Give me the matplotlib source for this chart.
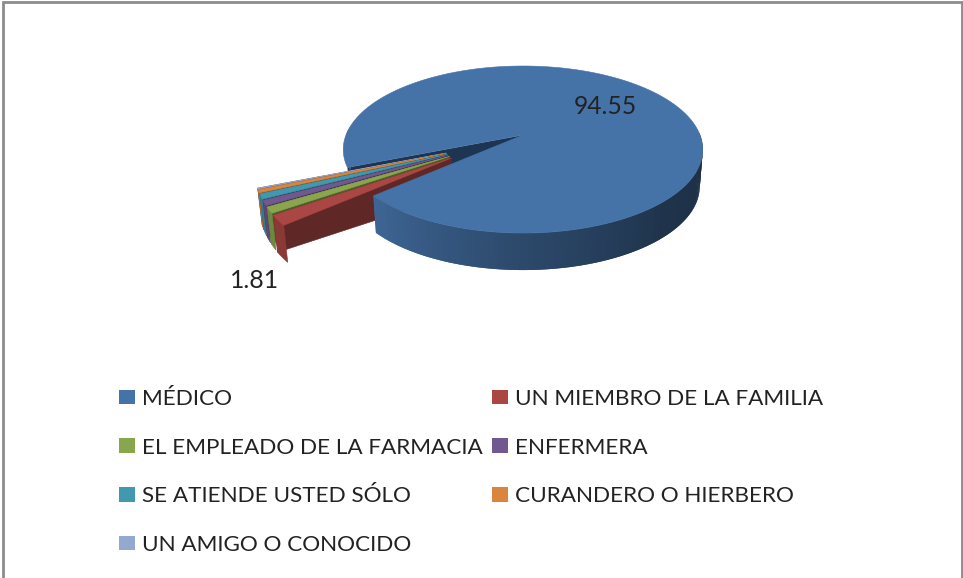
import numpy as np
import matplotlib
matplotlib.use("Agg")
from matplotlib import pyplot as plt
from matplotlib.colors import to_rgb
from matplotlib.patches import Patch

# data (only two labels are printed, the rest are estimates)
categories = ["MÉDICO", "UN MIEMBRO DE LA FAMILIA", "EL EMPLEADO DE LA FARMACIA", "ENFERMERA",
              "SE ATIENDE USTED SÓLO", "CURANDERO O HIERBERO", "UN AMIGO O CONOCIDO"]
values = [94.55, 1.81, 1.09, 0.91, 0.91, 0.55, 0.18]
labels = ["94.55", "1.81", "", "", "", "", ""]
colors = ["#4572A7", "#AA4643", "#89A54E", "#71588F", "#4198AF", "#DB843D", "#93A9CF"]

W, H = 963, 578
CX, CY = 523, 135  # projected centre of the pie
RX, RY = 177, 81
K = 0.174  # perspective strength
DEPTH = 37
BOTTOM_SHRINK = 0.017  # lower face sits a little further away
EXPLODE = 0.47
START = 202  # math degrees, slices run clockwise from here

plt.rcParams["font.family"] = ["Lato", "DejaVu Sans"]


def project(x, y, z=0):
    w = 1 + K * y
    return CX + RX * x / w * (1 - z * BOTTOM_SHRINK), CY - RY * y / w + z * DEPTH


def rim(a0, a1, ox=0.0, oy=0.0, z=0, n=60):
    t = np.radians(np.linspace(a0, a1, n))
    return project(ox + np.cos(t), oy + np.sin(t), z)


def shade(color, f):
    return tuple(c * f for c in to_rgb(color))


def poly(ax, xs, ys, color, zorder=1):
    ax.fill(xs, ys, facecolor=color, edgecolor=color, linewidth=0.4, zorder=zorder)


fig = plt.figure(figsize=(W / 100, H / 100), dpi=100)
ax = fig.add_axes([0, 0, 1, 1])
ax.set_xlim(0, W)
ax.set_ylim(H, 0)
ax.axis("off")

# slice angles
spans = np.array(values) / sum(values) * 360
ends = START - np.cumsum(spans)
starts = ends + spans
group_mid = (starts[1] + ends[-1]) / 2

# back wall of the big slice, seen through the gap
ax0, ay0 = project(0, 0)
bx0, by0 = project(0, 0, 1)
ex, ey = rim(starts[0], starts[0], n=1)
bx, by = rim(starts[0], starts[0], z=1, n=1)
ax.fill([ax0, ex[0], bx[0], bx0], [ay0, ey[0], by[0], by0],
        facecolor="#1d3550", edgecolor="none", zorder=1)

# small exploded slices, back to front
for i in range(len(values) - 1, 0, -1):
    # the small slices fan out less than their own bisectors would give
    mid = np.radians(0.5 * (starts[i] + ends[i]) / 2 + 0.5 * group_mid)
    ox, oy = EXPLODE * np.cos(mid), EXPLODE * np.sin(mid)
    px, py = project(ox, oy)
    qx, qy = project(ox, oy, 1)
    # wall on the lower edge
    wx, wy = rim(ends[i], ends[i], ox, oy, n=1)
    vx, vy = rim(ends[i], ends[i], ox, oy, z=1, n=1)
    poly(ax, [px, wx[0], vx[0], qx], [py, wy[0], vy[0], qy], shade(colors[i], 0.56), 2)
    # outer face
    rx, ry = rim(starts[i], ends[i], ox, oy, n=8)
    lx, ly = rim(starts[i], ends[i], ox, oy, z=1, n=8)
    poly(ax, np.r_[rx, lx[::-1]], np.r_[ry, ly[::-1]], shade(colors[i], 0.82), 2)
    # top
    poly(ax, np.r_[px, rx], np.r_[py, ry], colors[i], 2)

# big slice: side with a gradient, each band overlaps the next so no seams show
seg = np.linspace(starts[0], ends[0], 360)
step = seg[1] - seg[0]
for a0 in seg[:-1]:
    mid = a0 % 360
    if np.sin(np.radians(mid)) > 0.05 or 180 < mid < 205:
        continue
    f = np.interp(mid, [0, 90, 180, 221, 270, 315, 360], [0.40, 0.40, 0.9, 0.9, 0.64, 0.45, 0.40])
    sx, sy = rim(a0, max(a0 + 2 * step, ends[0]), n=2)
    lx, ly = rim(a0, max(a0 + 2 * step, ends[0]), z=1, n=2)
    ax.fill([sx[0], sx[1], lx[1], lx[0]], [sy[0], sy[1], ly[1], ly[0]],
            facecolor=shade(colors[0], f), edgecolor="none", zorder=3)
tx, ty = rim(starts[0], ends[0], n=360)
poly(ax, np.r_[ax0, tx], np.r_[ay0, ty], colors[0], 4)

# data labels
ax.text(605, 106, labels[0], ha="center", va="center", fontsize=17.8, color="#222222", zorder=5)
ax.text(255, 281, labels[1], ha="center", va="center", fontsize=17.8, color="#222222", zorder=5)

# legend fills columns first, so reorder the rows
order = [0, 2, 4, 6, 1, 3, 5]
handles = [Patch(facecolor=colors[i], edgecolor="none", label=categories[i]) for i in order]
leg = ax.legend(handles=handles, ncol=2, loc="upper left", bbox_to_anchor=(119, 389),
                bbox_transform=ax.transData, frameon=False, fontsize=16.2,
                handlelength=0.69, handleheight=0.62, handletextpad=0.32, columnspacing=0.44,
                labelspacing=1.275, borderpad=0, borderaxespad=0)
for t in leg.get_texts():
    t.set_color("#222222")

# chart frame, cut off at the bottom of the picture
ax.plot([3, 3, 962, 962], [H, 2, 2, H], color="#8c8c8c", linewidth=2, solid_joinstyle="miter", zorder=6)

fig.savefig("out.png", dpi=100)
